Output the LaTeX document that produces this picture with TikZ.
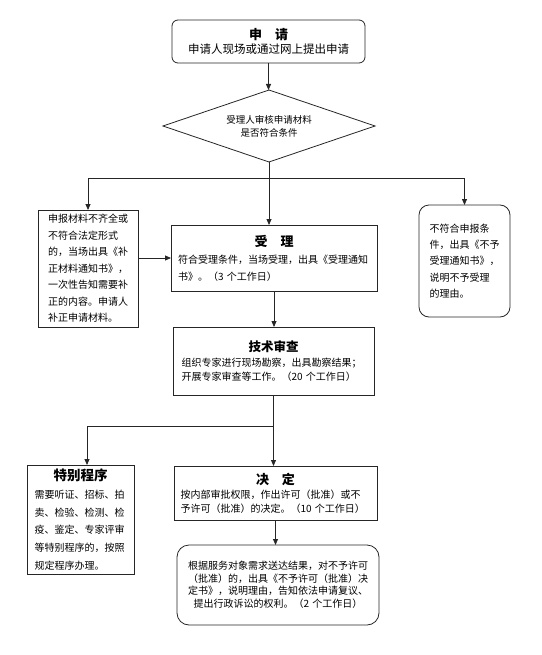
\documentclass[tikz,border=0pt]{standalone}
\usepackage{fontspec}
\setmainfont{Noto Sans CJK SC}
\usetikzlibrary{arrows.meta, positioning, shapes.geometric, calc}
\colorlet{boxline}{black!85}
\newcommand{\boxtitle}[2][13]{\makebox[\linewidth][c]{\fontsize{#1}{17}\selectfont\bfseries #2}}

\begin{document}
\begin{tikzpicture}[x=1pt, y=-1pt,
    stepbox/.style={draw=boxline, line width=0.8pt, fill=white, inner sep=0pt, outer sep=0pt},
    roundbox/.style={stepbox, rounded corners=8pt},
    flow/.style={draw=boxline, line width=0.8pt, -{Triangle[length=6pt, width=5pt]}},
    link/.style={draw=boxline, line width=0.8pt}]
  \useasboundingbox (0,0) rectangle (541,655);

  % top: application and check
  \node[roundbox, rounded corners=6pt, minimum width=193pt, minimum height=43pt, align=center,
        font=\fontsize{11.5}{14}\selectfont] (apply) at (268.5,41.5)
       {{\fontsize{13}{14}\selectfont\bfseries 申\quad 请}\\申请人现场或通过网上提出申请};
  \node[stepbox, diamond, aspect=3, minimum width=212pt, minimum height=72pt, align=center,
        font=\fontsize{9.5}{13}\selectfont] (check) at (269,126)
       {受理人审核申请材料\\是否符合条件};

  % middle row
  \node[stepbox, minimum width=100pt, minimum height=117pt, text width=80pt, align=left,
        font=\fontsize{10}{16.5}\selectfont] (lack) at (88,268.5)
       {申报材料不齐全或\\不符合法定形式\\的，当场出具《补\\正材料通知书》，\\一次性告知需要补\\正的内容。申请人\\补正申请材料。};
  \node[stepbox, minimum width=206pt, minimum height=66pt, text width=192pt, align=left,
        font=\fontsize{10}{17}\selectfont] (accept) at (274,258)
       {\boxtitle{受\quad 理}\\
        符合受理条件，当场受理，出具《受理通知\\书》。（3~个工作日）};
  \node[roundbox, rounded corners=10pt, minimum width=91pt, minimum height=112pt, text width=70pt,
        align=left, font=\fontsize{10}{16.3}\selectfont] (refuse) at (464.5,261)
       {不符合申报条\\件，出具《不予\\受理通知书》，\\说明不予受理\\的理由。\\[6pt]};

  % review
  \node[stepbox, minimum width=201pt, minimum height=68pt, text width=184pt, align=left,
        font=\fontsize{10}{14}\selectfont] (review) at (273.5,361)
       {\boxtitle[12.5]{技术审查}\\[1pt]
        组织专家进行现场勘察，出具勘察结果；\\开展专家审查等工作。（20~个工作日）};

  % bottom row
  \node[stepbox, minimum width=107pt, minimum height=109pt, text width=92pt, align=left,
        font=\fontsize{10}{17.8}\selectfont] (special) at (80.5,519.5)
       {\boxtitle[13.5]{特别程序}\\
        需要听证、招标、拍\\卖、检验、检测、检\\疫、鉴定、专家评审\\等特别程序的，按照\\规定程序办理。};
  \node[stepbox, minimum width=203pt, minimum height=54pt, text width=190pt, align=left,
        font=\fontsize{10}{14}\selectfont] (decide) at (275.5,493)
       {\boxtitle{决\quad 定}\\
        按内部审批权限，作出许可（批准）或不\\予许可（批准）的决定。（10~个工作日）};
  \node[roundbox, rounded corners=12pt, minimum width=202pt, minimum height=80pt, text width=188pt,
        align=center, font=\fontsize{10}{12.5}\selectfont] (result) at (278,585)
       {根据服务对象需求送达结果，对不予许可\\（批准）的，出具《不予许可（批准）决\\定书》，说明理由，告知依法申请复议、\\提出行政诉讼的权利。（2~个工作日）};

  % connectors
  \draw[flow] (apply.south) -- (apply.south |- check.north);
  \coordinate (split1) at (check.south |- 0,178);
  \draw[link] (check.south) -- (split1);
  \draw[flow] (split1) -| (lack.north);
  \draw[flow] (split1) -| (refuse.north);
  \draw[flow] (split1) -- (split1 |- accept.north);
  \draw[flow] (lack.east |- accept.west) -- (accept.west);
  \draw[flow] (accept.south) -- (accept.south |- review.north);
  \coordinate (split2) at (review.south |- 0,426);
  \draw[flow] (review.south) -- (review.south |- decide.north);
  \draw[flow] (split2) -| ($(special.north)+(6.5,0)$);
  \draw[flow] (decide.south) -- (decide.south |- result.north);
\end{tikzpicture}
\end{document}
